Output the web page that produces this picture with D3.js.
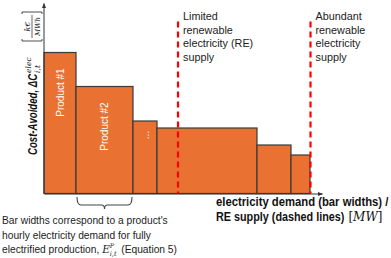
<!DOCTYPE html>
<html>
<head>
<meta charset="utf-8">
<script src="https://cdn.jsdelivr.net/npm/d3@7"></script>
<style>
  body { margin: 0; background: #fff; }
  svg { display: block; font-family: "Liberation Sans", Arial, sans-serif; }
</style>
</head>
<body>
<svg id="chart" width="391" height="258"></svg>
<script>
// bar data: hourly electricity demand (width) and cost avoided (height)
const products = ['Product #1', 'Product #2', '...', '', '', ''];
const demand = [32, 57, 24, 100, 34, 19];
const costAvoided = [141, 107, 72.5, 65.5, 48.5, 38.5];
// renewable supply levels (dashed lines)
const reSupply = [134, 266.5];
const supplyLabels = [
  ['Limited', 'renewable', 'electricity (RE)', 'supply'],
  ['Abundant', 'renewable', 'electricity', 'supply'],
];
const noteLines = [
  "Bar widths correspond to a product's",
  'hourly electricity demand for fully',
  'electrified production,',
];
const xLabel = ['electricity demand (bar widths) /', 'RE supply (dashed lines)'];

const orange = '#E97132';
const serif = '"DejaVu Serif", "Liberation Serif", serif';
const svg = d3.select('#chart');

// squeeze a text horizontally
function squeeze(sel, k) {
  const w = sel.node().getComputedTextLength();
  sel.attr('textLength', w * k).attr('lengthAdjust', 'spacingAndGlyphs');
  return w * k;
}

const x = d3.scaleLinear().domain([0, 278]).range([44, 322]);
const y = d3.scaleLinear().domain([0, 190]).range([193.5, 3.5]);

let acc = 0;
const bars = demand.map((w, i) => {
  const d = { x0: acc, x1: acc + w, v: costAvoided[i], label: products[i] };
  acc += w;
  return d;
});

svg.append('defs').append('marker')
  .attr('id', 'arrow')
  .attr('viewBox', '0 0 10 10')
  .attr('refX', 9)
  .attr('refY', 5)
  .attr('markerWidth', 5)
  .attr('markerHeight', 5)
  .attr('orient', 'auto')
  .append('path')
  .attr('d', 'M0,1 L10,5 L0,9 Z')
  .attr('fill', '#333');

svg.append('g')
  .selectAll('rect')
  .data(bars)
  .enter()
  .append('rect')
  .attr('x', d => x(d.x0))
  .attr('y', d => y(d.v))
  .attr('width', d => x(d.x1) - x(d.x0))
  .attr('height', d => y(0) - y(d.v))
  .attr('fill', orange)
  .attr('stroke', '#3a3a3a')
  .attr('stroke-width', 1.2);

svg.append('g')
  .selectAll('text')
  .data(bars.filter(d => d.label))
  .enter()
  .append('text')
  .attr('transform', (d) => {
    const cx = (x(d.x0) + x(d.x1)) / 2;
    const cy = y(d.v) + (d.label === '...' ? 14 : 40);
    return `translate(${cx + 3.5},${cy}) rotate(-90)`;
  })
  .attr('text-anchor', 'middle')
  .attr('fill', '#fff')
  .style('font-size', '10px')
  .text(d => d.label);

// axes, no ticks
const xAxis = svg.append('g')
  .attr('transform', `translate(0,${y(0)})`)
  .call(d3.axisBottom(x).tickValues([]).tickSizeOuter(0));
xAxis.select('.domain').attr('stroke', '#333').attr('marker-end', 'url(#arrow)');

const yAxis = svg.append('g')
  .attr('transform', `translate(${x(0)},0)`)
  .call(d3.axisLeft(y).tickValues([]).tickSizeOuter(0));
yAxis.select('.domain')
  .attr('d', `M0,${y(0)}V${y(190)}`)
  .attr('stroke', '#333')
  .attr('marker-end', 'url(#arrow)');

// renewable supply dashed lines
svg.append('g')
  .selectAll('line')
  .data(reSupply)
  .enter()
  .append('line')
  .attr('x1', d => x(d))
  .attr('x2', d => x(d))
  .attr('y1', y(172))
  .attr('y2', y(0))
  .attr('stroke', '#FF0000')
  .attr('stroke-width', 2.2)
  .attr('stroke-dasharray', '6,4');

supplyLabels.forEach((lines, i) => {
  lines.forEach((t, j) => {
    svg.append('text')
      .attr('x', x(reSupply[i]) + 5)
      .attr('y', 20 + j * 13.5)
      .style('font-size', '10.8px')
      .attr('fill', '#222')
      .text(t);
  });
});

// brace under product #2
const b0 = x(bars[1].x0) + 1;
const b1 = x(bars[1].x1) - 1;
const bm = (b0 + b1) / 2;
svg.append('path')
  .attr('d', `M${b0},197 Q${b0},205 ${b0 + 4},205 L${bm - 3},205 Q${bm},205 ${bm},209 Q${bm},205 ${bm + 3},205 L${b1 - 4},205 Q${b1},205 ${b1},197`)
  .attr('fill', 'none')
  .attr('stroke', '#444')
  .attr('stroke-width', 1.1);

// note under the brace
const note = svg.append('g').style('font-size', '11px').attr('fill', '#222');
let lastW = 0;
noteLines.forEach((t, i) => {
  const s = note.append('text').attr('x', 2).attr('y', 224 + i * 14.5).text(t);
  lastW = squeeze(s, 0.93);
});
const lx = 2 + lastW + 3;
note.append('text').attr('x', lx).attr('y', 253)
  .style('font-family', serif).style('font-style', 'italic').style('font-size', '10.5px')
  .text('E');
note.append('text').attr('x', lx + 7.5).attr('y', 248)
  .style('font-family', serif).style('font-style', 'italic')
  .style('font-size', '6.5px').text('P');
note.append('text').attr('x', lx + 7.5).attr('y', 256)
  .style('font-family', serif).style('font-style', 'italic')
  .style('font-size', '6.5px').text('i,t');
squeeze(note.append('text').attr('x', lx + 19).attr('y', 253).text('(Equation 5)'), 0.93);

// x label
const xl = svg.append('g').style('font-size', '12px').style('font-weight', 'bold').attr('fill', '#111');
squeeze(xl.append('text').attr('x', 216).attr('y', 206).text(xLabel[0]), 0.94);
const xw = squeeze(xl.append('text').attr('x', 216).attr('y', 221).text(xLabel[1]), 0.9);
xl.append('text').attr('x', 216 + xw + 4).attr('y', 221)
  .style('font-weight', 'normal')
  .style('font-family', serif)
  .style('font-size', '12px')
  .html('[<tspan font-style="italic">MW</tspan>]');

// y label, rotated
const yl = svg.append('g').attr('transform', 'rotate(-90)').attr('fill', '#111');
const ymain = yl.append('text')
  .attr('x', -155).attr('y', 37)
  .style('font-size', '12px').style('font-weight', 'bold').style('font-style', 'italic')
  .text('Cost-Avoided, ΔC');
const yw = squeeze(ymain, 0.8);
yl.append('text').attr('x', -155 + yw + 1).attr('y', 31)
  .style('font-family', serif).style('font-style', 'italic').style('font-size', '7.5px')
  .text('elec');
yl.append('text').attr('x', -155 + yw + 1).attr('y', 40)
  .style('font-family', serif).style('font-style', 'italic').style('font-size', '7.5px')
  .text('i,t');
// bracketed unit fraction
const fx0 = -41;
const fx1 = -12;
yl.append('path')
  .attr('d', `M${fx0 + 2},22 H${fx0} V42 H${fx0 + 2} M${fx1 - 2},22 H${fx1} V42 H${fx1 - 2}`)
  .attr('fill', 'none').attr('stroke', '#222').attr('stroke-width', 0.8);
yl.append('line').attr('x1', fx0 + 3).attr('x2', fx1 - 3).attr('y1', 32).attr('y2', 32)
  .attr('stroke', '#222').attr('stroke-width', 0.7);
yl.append('text').attr('x', (fx0 + fx1) / 2).attr('y', 30).attr('text-anchor', 'middle')
  .style('font-family', serif).style('font-style', 'italic').style('font-size', '8px')
  .text('k€');
yl.append('text').attr('x', (fx0 + fx1) / 2).attr('y', 40).attr('text-anchor', 'middle')
  .style('font-family', serif).style('font-style', 'italic').style('font-size', '7px')
  .text('MWh');
</script>
</body>
</html>
